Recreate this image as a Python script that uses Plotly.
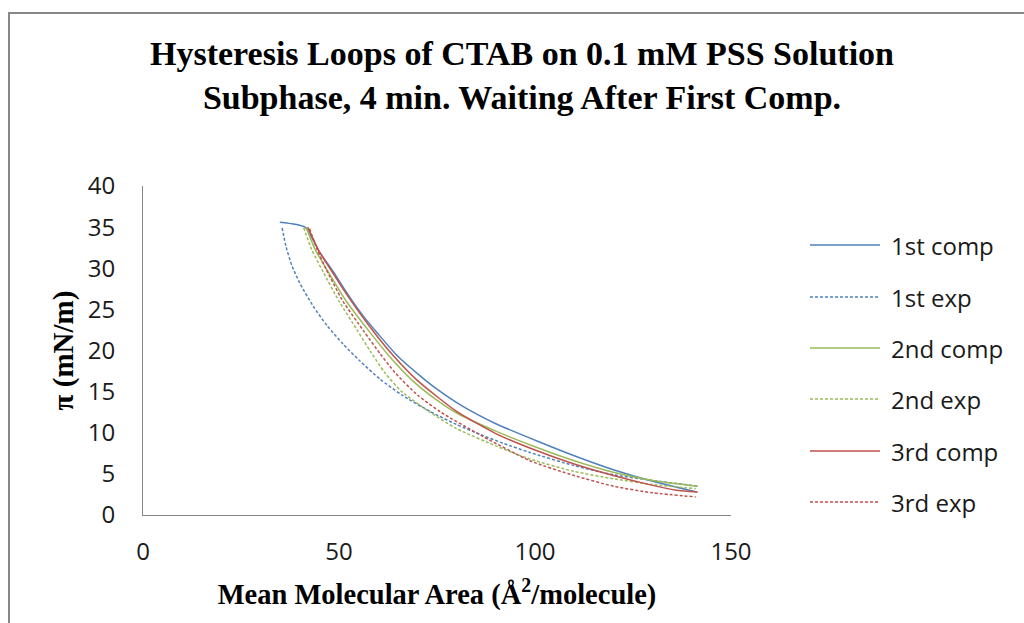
import plotly.graph_objects as go

# ---------------- data ----------------
# 1st compression (blue solid)
x_1c = [141.3, 130, 120, 110, 101, 90, 81.6, 75, 71, 65, 60, 56, 52, 48.5, 45, 41.3, 34.9]
y_1c = [2.8, 4.1, 5.5, 7.2, 8.9, 11.1, 13.2, 15.3, 16.8, 19.3, 22.0, 24.3, 27.0, 29.6, 32.0, 35.0, 35.6]

# 1st expansion (blue dashed)
x_1e = [35.5, 36.5, 38, 40, 43.4, 47, 51, 55.4, 60.5, 66, 73.2, 80, 86, 92, 98.7, 110, 116, 120, 130, 141.6]
y_1e = [34.9, 32.6, 30.3, 28.2, 25.4, 23.0, 20.8, 18.7, 16.5, 14.6, 12.6, 11.0, 9.8, 8.7, 7.6, 6.0, 5.3, 4.9, 4.2, 3.5]

# 2nd compression (green solid)
x_2c = [141.5, 130, 120, 110, 100, 90, 80, 74, 68.6, 63, 57.9, 52, 47.2, 44, 41.6]
y_2c = [3.5, 4.2, 5.2, 6.6, 8.3, 10.2, 12.4, 14.3, 16.4, 19.2, 22.2, 25.9, 29.6, 32.2, 35.0]

# 2nd expansion (green dashed)
x_2e = [41.0, 43, 45.9, 50, 54.6, 58, 61.7, 66, 73.2, 80, 90, 98.7, 110, 120, 130, 141]
y_2e = [34.9, 32.3, 29.6, 26.0, 22.5, 19.9, 17.3, 15.0, 12.5, 10.5, 8.4, 6.8, 5.3, 4.4, 3.7, 3.2]

# 3rd compression (red solid)
x_3c = [141.5, 136, 130, 120, 110, 100, 90, 80, 69.9, 64, 58.5, 52, 48.2, 45, 42]
y_3c = [2.8, 3.0, 3.6, 4.8, 6.2, 7.9, 9.9, 12.6, 16.4, 19.3, 22.5, 26.8, 29.6, 32.0, 35.0]

# 3rd expansion (red dashed)
x_3e = [42.5, 44.5, 46.7, 51, 56.4, 60.5, 64.3, 70, 76, 85, 98.7, 110, 120, 130, 141]
y_3e = [34.8, 32.2, 29.9, 26.0, 22.3, 19.6, 17.3, 14.6, 12.5, 10.0, 6.6, 4.8, 3.5, 2.7, 2.2]

series_names = ["1st comp", "1st exp", "2nd comp", "2nd exp", "3rd comp", "3rd exp"]
series_x = [x_1c, x_1e, x_2c, x_2e, x_3c, x_3e]
series_y = [y_1c, y_1e, y_2c, y_2e, y_3c, y_3e]
series_colors = ["#4F81BD", "#4F81BD", "#9BBB59", "#9BBB59", "#C0504D", "#C0504D"]
series_dash = ["solid", "3px,2px", "solid", "3px,2px", "solid", "3px,2px"]

title_text = ("<b>Hysteresis Loops of CTAB on 0.1 mM PSS Solution<br>"
              "Subphase, 4 min. Waiting After First Comp.</b>")
x_title = "<b>Mean Molecular Area (Å<sup>2</sup>/molecule)</b>"
y_title = "<b>π (mN/m)</b>"

# ---------------- layout geometry ----------------
W, H = 1024, 623
ML, MR, MT, MB = 143, 293, 186, 108
PW, PH = W - ML - MR, H - MT - MB


def px2paper_x(px):
    return (px - ML) / PW


def px2paper_y(py):
    return (H - MB - py) / PH


fig = go.Figure()
for name, xs, ys, col, dash in zip(series_names, series_x, series_y,
                                   series_colors, series_dash):
    fig.add_trace(go.Scatter(
        x=xs, y=ys, mode="lines", name=name,
        line=dict(color=col, width=1.5, dash=dash, shape="spline", smoothing=0.6),
        showlegend=False,
    ))

# custom legend (Excel style: long sample line + text)
leg_y_px = [245, 297, 348, 399, 451, 502]
shapes = []
annotations = []
for name, col, dash, ly in zip(series_names, series_colors, series_dash, leg_y_px):
    shapes.append(dict(type="line", xref="paper", yref="paper",
                       x0=px2paper_x(810), x1=px2paper_x(880),
                       y0=px2paper_y(ly), y1=px2paper_y(ly),
                       line=dict(color=col, width=1.5, dash=dash)))
    annotations.append(dict(text=name, xref="paper", yref="paper",
                            x=px2paper_x(889), y=px2paper_y(ly),
                            xanchor="left", yanchor="middle", showarrow=False,
                            font=dict(family="Open Sans", size=24, color="#1a1a1a")))

# outer chart frame (left and top edges visible in the reference)
shapes.append(dict(type="line", xref="paper", yref="paper",
                   x0=px2paper_x(9), x1=px2paper_x(9),
                   y0=px2paper_y(640), y1=px2paper_y(12),
                   line=dict(color="#878787", width=2)))
shapes.append(dict(type="line", xref="paper", yref="paper",
                   x0=px2paper_x(8), x1=px2paper_x(1040),
                   y0=px2paper_y(13), y1=px2paper_y(13),
                   line=dict(color="#878787", width=2)))

fig.update_layout(
    width=W, height=H,
    margin=dict(l=ML, r=MR, t=MT, b=MB),
    paper_bgcolor="white", plot_bgcolor="white",
    title=dict(text=title_text, x=522 / W, xref="container", xanchor="center",
               y=1 - 65 / H, yref="container", yanchor="top",
               font=dict(family="Liberation Serif", size=34, color="#000000")),
    shapes=shapes,
    annotations=annotations,
    showlegend=False,
)

fig.update_xaxes(
    range=[0, 150], tickvals=[0, 50, 100, 150], showgrid=False, zeroline=False,
    showline=True, linecolor="#868686", linewidth=1, ticks="",
    ticklabelstandoff=15,
    tickfont=dict(family="Open Sans", size=24, color="#1a1a1a"),
    title=dict(text=x_title, standoff=18,
               font=dict(family="Liberation Serif", size=28.5, color="#000000")),
)
fig.update_yaxes(
    range=[0, 40], tickvals=[0, 5, 10, 15, 20, 25, 30, 35, 40], showgrid=False,
    zeroline=False, showline=True, linecolor="#868686", linewidth=1, ticks="",
    ticklabelstandoff=22,
    tickfont=dict(family="Open Sans", size=24, color="#1a1a1a"),
    title=dict(text=y_title, standoff=5,
               font=dict(family="Liberation Serif", size=29, color="#000000")),
)

fig.write_html("out.html")
